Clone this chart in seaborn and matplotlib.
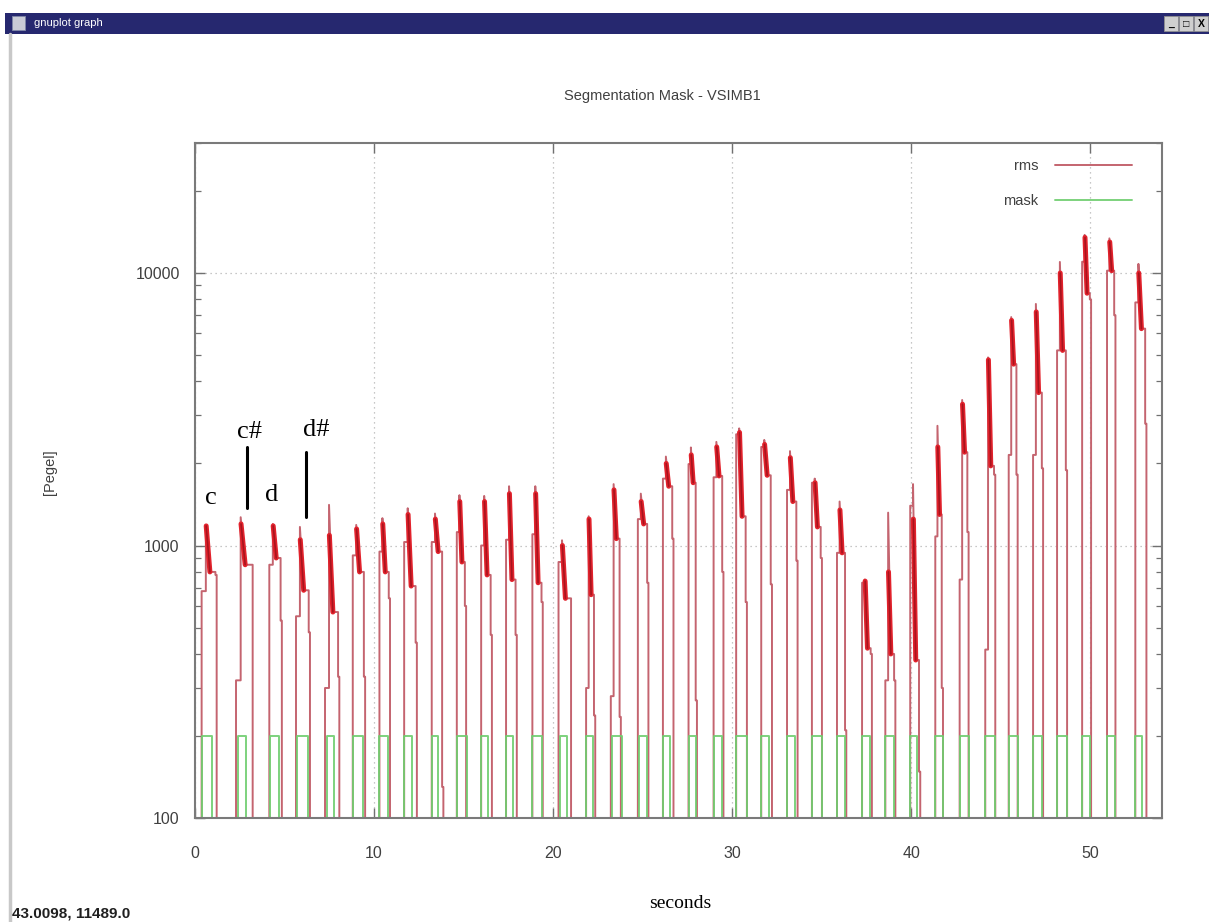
import numpy as np
import pandas as pd
import matplotlib
matplotlib.use("Agg")
import matplotlib.pyplot as plt
import seaborn as sns
from matplotlib.patches import Rectangle
from matplotlib.lines import Line2D
from matplotlib.ticker import LogLocator, NullFormatter, FuncFormatter

# ---------------- data ----------------
onset = [0.37, 2.29, 4.15, 5.64, 7.26, 8.81, 10.30, 11.68, 13.22, 14.62, 15.98, 17.37,
         18.84, 20.30, 21.84, 23.22, 24.73, 26.13, 27.56, 28.96, 30.22, 31.62, 33.06,
         34.45, 35.85, 37.25, 38.55, 39.94, 41.34, 42.70, 44.13, 45.44, 46.80, 48.14,
         49.54, 50.93, 52.51]
offset = [1.21, 3.22, 4.85, 6.42, 8.06, 9.50, 10.89, 12.39, 13.87, 15.14, 16.58, 17.97,
          19.42, 21.00, 22.35, 23.78, 25.32, 26.72, 28.03, 29.51, 30.82, 32.22, 33.65,
          35.01, 36.37, 37.80, 39.11, 40.50, 41.77, 43.20, 44.69, 45.94, 47.36, 48.70,
          50.04, 51.40, 53.13]
rise_level = [680, 320, 850, 550, 300, 920, 950, 1030, 1030, 1120, 1000, 1050, 1100, 870,
              300, 280, 1250, 1760, 1990, 1780, 2560, 2300, 1600, 1700, 940, 730, 320,
              1400, 1080, 750, 415, 2150, 2150, 5200, 11000, 10200, 7800]
peak_level = [1190, 1270, 1200, 1170, 1410, 1190, 1260, 1370, 1310, 1530, 1520, 1650, 1650,
              1045, 1280, 1680, 1550, 2120, 2290, 2400, 2690, 2440, 2220, 1760, 1450, 750,
              1320, 1680, 2750, 3420, 4900, 6890, 7700, 10980, 13800, 13400, 10800]
dense_top = [1180, 1200, 1180, 1050, 1090, 1150, 1200, 1300, 1250, 1450, 1450, 1550, 1550,
             1000, 1250, 1600, 1450, 2000, 2150, 2300, 2600, 2350, 2100, 1700, 1350, 740,
             800, 1250, 2300, 3300, 4800, 6700, 7200, 10000, 13500, 13000, 10000]
dense_low = [800, 850, 900, 685, 570, 800, 800, 710, 950, 870, 780, 750, 730, 640, 660, 1060,
             1200, 1650, 1700, 1800, 1280, 1810, 1450, 1170, 940, 420, 400, 380, 1300, 2200,
             1960, 4630, 3640, 5200, 8430, 10200, 6250]
tail_level = [780, 850, 530, 480, 330, 330, 640, 440, 130, 600, 470, 470, 620, 640, 238, 235,
              730, 1060, 270, 800, 620, 720, 880, 900, 210, 400, 320, 148, 300, 1120, 1820,
              1820, 1920, 1890, 8000, 7000, 2800]
mask_on = [0.37, 2.42, 4.19, 5.68, 7.36, 8.81, 10.30, 11.68, 13.22, 14.62, 15.98, 17.37,
           18.84, 20.39, 21.84, 23.31, 24.77, 26.13, 27.56, 29.00, 30.22, 31.62, 33.06,
           34.45, 35.85, 37.25, 38.55, 39.94, 41.34, 42.70, 44.13, 45.44, 46.80, 48.14,
           49.54, 50.93, 52.51]
mask_off = [0.96, 2.85, 4.69, 6.33, 7.77, 9.37, 10.80, 12.11, 13.56, 15.18, 16.35, 17.78,
            19.37, 20.76, 22.25, 23.84, 25.23, 26.54, 27.99, 29.42, 30.82, 32.03, 33.52,
            35.01, 36.31, 37.71, 39.01, 40.32, 41.77, 43.20, 44.69, 45.94, 47.30, 48.70,
            50.00, 51.40, 52.89]
mask_high = 200
below_axis = 50          # level used when the signal is under the plotted range
x_ticks = [0, 10, 20, 30, 40, 50]
y_ticks = [100, 1000, 10000]

# ---------------- build line tables ----------------
rms_t, rms_v = [], []
bl_t, bl_v, bl_u = [], [], []
for i, (on, off, r, p, top, lo, tl) in enumerate(zip(onset, offset, rise_level, peak_level,
                                                      dense_top, dense_low, tail_level)):
    w = off - on
    a = on + 0.28 * w
    c = on + 0.55 * w
    b = off - 0.07
    rms_t += [on, on, a, a, c, b, b, off, off]
    rms_v += [below_axis, r, r, p, lo, lo, tl, tl, below_axis]
    bl_t += [a + 0.02, c]
    bl_v += [top, lo]
    bl_u += [i, i]
rms_df = pd.DataFrame({"seconds": rms_t, "Pegel": rms_v})
blob_df = pd.DataFrame({"seconds": bl_t, "Pegel": bl_v, "pulse": bl_u})

m_t, m_v = [], []
for mo, mf in zip(mask_on, mask_off):
    m_t += [mo, mo, mf, mf]
    m_v += [below_axis / 5, mask_high, mask_high, below_axis / 5]
mask_df = pd.DataFrame({"seconds": m_t, "Pegel": m_v})

# ---------------- figure ----------------
sns.set_theme(style="white")
plt.rcParams["font.family"] = ["Liberation Sans", "DejaVu Sans"]

W, H = 1209, 922
fig = plt.figure(figsize=(W / 100, H / 100), dpi=100)
fig.patch.set_facecolor("white")

def fx(px):
    return px / W

def fy(py):
    return 1 - py / H

# window chrome
fig.patches.append(Rectangle((fx(5), fy(34)), 1 - fx(5), 21 / H, transform=fig.transFigure,
                             facecolor="#26286f", edgecolor="none", zorder=0))
fig.patches.append(Rectangle((fx(12), fy(30)), 13 / W, 14 / H, transform=fig.transFigure,
                             facecolor="#c9cbd6", edgecolor="#8088a8", lw=0.6, zorder=1))
fig.text(fx(34), fy(23.5), "gnuplot graph", color="white", fontsize=8, va="center",
         ha="left")
for bx, glyph in zip([1164, 1179, 1194], ["_", "□", "X"]):
    fig.patches.append(Rectangle((fx(bx), fy(31)), 14 / W, 15 / H, transform=fig.transFigure,
                                 facecolor="#cfcfcf", edgecolor="#909090", lw=0.6, zorder=1))
    fig.text(fx(bx + 7), fy(24), glyph, color="black", fontsize=7.5, ha="center",
             va="center", fontweight="bold")
fig.lines.append(Line2D([fx(10), fx(10)], [0, fy(34)], transform=fig.transFigure,
                        color="#c8c8c8", lw=2.5))

ax = fig.add_axes([fx(195), fy(818), fx(1162) - fx(195), (818 - 143) / H])
ax.set_yscale("log")

RMS = "#c4646f"
BLOB = "#e2222c"
BLOB_CORE = "#a8141e"
MASK = "#6fce6f"

sns.lineplot(data=rms_df, x="seconds", y="Pegel", sort=False, estimator=None,
             color=RMS, lw=1.4, ax=ax, label="rms")
sns.lineplot(data=blob_df, x="seconds", y="Pegel", units="pulse", sort=False,
             estimator=None, color=BLOB, lw=3.6, ax=ax, legend=False)
sns.lineplot(data=blob_df, x="seconds", y="Pegel", units="pulse", sort=False,
             estimator=None, color=BLOB_CORE, lw=1.2, ax=ax, legend=False)
sns.lineplot(data=mask_df, x="seconds", y="Pegel", sort=False, estimator=None,
             color=MASK, lw=1.4, ax=ax, label="mask", alpha=0.9)

ax.set_xlim(0, 54.0)
ax.set_ylim(100, 30000)
ax.set_xticks(x_ticks)
ax.set_xticklabels([str(v) for v in x_ticks])
ax.set_yticks(y_ticks)
ax.yaxis.set_major_formatter(FuncFormatter(lambda v, _: f"{v:g}"))
ax.yaxis.set_minor_locator(LogLocator(base=10, subs=np.arange(2, 10)))
ax.yaxis.set_minor_formatter(NullFormatter())
ax.tick_params(which="both", direction="in", top=True, right=True, left=True, bottom=True,
               color="#707070", labelcolor="#404040", labelsize=11.5)
ax.tick_params(which="major", length=7, width=1)
ax.tick_params(which="minor", length=4, width=0.9)
ax.tick_params(axis="x", pad=20)
ax.tick_params(axis="y", pad=11)
ax.grid(which="major", ls=(0, (1, 3)), color="#b5b5b5", lw=0.9)
for s in ax.spines.values():
    s.set_color("#7a7a7a")
    s.set_linewidth(1.5)
ax.set_xlabel("")
ax.set_ylabel("")

h, l = ax.get_legend_handles_labels()
leg = ax.legend(h, l, loc="upper right", bbox_to_anchor=(0.975, 0.985), frameon=False,
                markerfirst=False, handlelength=5.3, labelspacing=1.45, fontsize=10.5,
                borderaxespad=0, handletextpad=1.1)
for t in leg.get_texts():
    t.set_color("#404040")

# texts
fig.text(fx(662), fy(96), "Segmentation Mask - VSIMB1", ha="center", va="center",
         fontsize=10.5, color="#404040")
fig.text(fx(50), fy(472), "[Pegel]", rotation=90, ha="center", va="center",
         fontsize=10.5, color="#404040")
fig.text(fx(680), fy(903), "seconds", ha="center", va="center", fontsize=14,
         family=["Liberation Serif", "DejaVu Serif"], color="black")
fig.text(fx(12), fy(913), "43.0098, 11489.0", ha="left", va="center", fontsize=11,
         fontweight="bold", color="#202020")

# note annotations
serif = ["Liberation Serif", "DejaVu Serif"]
for txt, px, py in [("c", 211, 498), ("c#", 249, 432), ("d", 272, 495), ("d#", 316, 430)]:
    fig.text(fx(px), fy(py), txt, ha="center", va="center", fontsize=19, family=serif,
             color="black")
for px, y0, y1 in [(247, 447, 508), (306, 452, 517)]:
    fig.lines.append(Line2D([fx(px), fx(px)], [fy(y0), fy(y1)], transform=fig.transFigure,
                            color="black", lw=2.2))

fig.savefig("out.png", dpi=100)
